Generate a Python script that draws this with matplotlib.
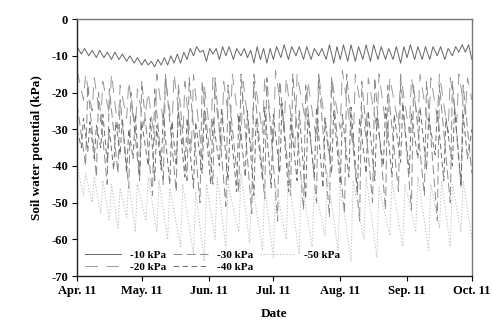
import matplotlib
matplotlib.use("Agg")
import matplotlib.pyplot as plt
import numpy as np

plt.rcParams['font.family'] = ['Liberation Serif', 'DejaVu Serif']
plt.rcParams['lines.scale_dashes'] = False

month_ticks = [0, 30, 61, 91, 122, 153, 183]
month_labels = ["Apr. 11", "May. 11", "Jun. 11", "Jul. 11", "Aug. 11", "Sep. 11", "Oct. 11"]
y_ticks = [0, -10, -20, -30, -40, -50, -60, -70]
y_labels = ["0", "-10", "-20", "-30", "-40", "-50", "-60", "-70"]

# Series: turning points (day since Apr. 11, kPa)
s10_days = [0, 2, 3.5, 5.5, 7, 9, 10.5, 12.5, 14, 16, 17.5, 19.5, 21, 23, 24.5, 26.5, 28, 30,
            31.5, 33, 34.5, 36, 37.5, 39, 40.5, 42, 43.5, 45, 46.5, 48, 49.5, 51, 52.5, 54, 55.5, 57, 58.5, 60,
            61.5, 63, 64.5, 66, 67.5, 69, 70.5, 72.5, 74, 76, 77.5, 79, 80.5, 82, 83.5, 85, 86.5, 88, 89.5, 91,
            92.5, 94.5, 96, 98, 99.5, 101.5, 103, 105, 106.5, 108.5, 110, 112, 113.5, 115.5, 117, 119, 120.5, 122,
            123.5, 125.5, 127, 129, 130.5, 132.5, 134, 136, 137.5, 139.5, 141, 143, 144.5, 146.5, 148, 150, 151.5, 153,
            154.5, 156.5, 158, 160, 161.5, 163.5, 165, 167, 168.5, 170.5, 172, 174, 175.5, 177, 178.5, 180, 181.5, 183]
s10_vals = [-7.5, -9.5, -8, -10, -8.5, -10.5, -8.5, -10.5, -9, -11, -9, -11, -9.5, -11.5, -10, -12, -10.5, -12.5,
            -11, -12.5, -11.5, -13, -11, -12.5, -10.5, -12.5, -10, -12, -9.5, -12, -9, -11, -8, -10, -7.5, -9, -8.5, -11.5,
            -8, -9.5, -8, -11, -7.5, -10, -7.5, -11, -8, -10, -8, -10.5, -8.5, -12, -7.5, -11, -8, -12, -8, -11,
            -7.5, -10.5, -7, -11, -7.5, -10, -7.5, -11, -7.5, -11, -8, -10, -8, -11, -7, -12, -7.5, -11,
            -7, -11.5, -7, -11.5, -7.5, -11, -7, -11.5, -7, -11, -7.5, -11, -8, -11, -7.5, -12, -7.5, -10.5,
            -7, -11, -7.5, -11, -7.5, -11, -7.5, -10, -7.5, -11, -8, -10, -7.5, -9, -7, -9, -7, -11]

s20_days = [0, 3, 4, 7, 8, 11, 12, 15, 16, 19, 20, 23, 24, 27, 28, 31, 33, 36, 37, 40, 41, 44, 45, 49, 50, 53, 54, 58,
            59, 62, 63, 67, 68, 71, 72, 76, 77, 81, 82, 86, 87, 91, 92, 96, 97, 101, 102, 106, 107, 111, 112, 117, 118,
            122, 123, 128, 129, 134, 135, 139, 140, 144, 145, 149, 150, 154, 155, 158, 159, 163, 164, 167, 168, 172,
            173, 176, 177, 180, 181, 183]
s20_vals = [-14, -22, -15, -25, -16, -28, -17, -26, -15, -30, -18, -27, -17, -31, -19, -29, -20, -33, -15, -28, -16, -30,
            -15, -34, -17, -36, -15, -38, -18, -33, -16, -35, -17, -30, -15, -33, -17, -36, -15, -31, -16, -34, -14,
            -30, -16, -35, -15, -28, -17, -33, -15, -38, -16, -30, -14, -35, -15, -32, -16, -30, -15, -33, -16, -29,
            -15, -31, -16, -28, -15, -30, -16, -27, -15, -31, -16, -28, -15, -26, -16, -22]

s30_days = [0, 4, 5, 9, 10, 14, 15, 19, 20, 24, 25, 29, 30, 35, 36, 40, 41, 46, 47, 51, 52, 57, 58, 63, 64, 69, 70, 75,
            76, 81, 82, 87, 88, 93, 94, 99, 100, 105, 106, 111, 112, 117, 118, 124, 125, 131, 132, 137, 138, 143, 144,
            149, 150, 155, 156, 161, 162, 167, 168, 173, 174, 178, 179, 183]
s30_vals = [-23, -40, -18, -43, -20, -45, -19, -42, -22, -46, -20, -44, -17, -48, -19, -45, -15, -47, -18, -44, -16, -50,
            -17, -45, -16, -51, -18, -47, -15, -53, -17, -49, -16, -55, -17, -48, -15, -52, -18, -50, -15, -54, -16,
            -53, -15, -55, -17, -50, -16, -52, -18, -47, -16, -52, -18, -48, -17, -55, -18, -50, -17, -46, -18, -42]

s40_days = [0, 2, 3, 5, 6, 8, 9, 11, 12, 14, 15, 17, 18, 20, 21, 23, 24, 26, 27, 29, 30, 33, 34, 36, 37, 39, 40, 43,
            44, 46, 47, 50, 51, 54, 55, 58, 59, 62, 63, 66, 67, 70, 71, 74, 75, 78, 79, 82, 83, 86, 87, 90, 91, 94,
            95, 98, 99, 102, 103, 106, 107, 110, 111, 114, 115, 118, 119, 122, 123, 126, 127, 130, 131, 134, 135, 138,
            139, 142, 143, 146, 147, 150, 151, 154, 155, 158, 159, 162, 163, 166, 167, 170, 171, 174, 175, 178, 179,
            181, 183]
s40_vals = [-30, -35, -27, -36, -28, -38, -29, -35, -26, -39, -30, -41, -28, -37, -27, -42, -30, -38, -26, -43, -28, -40,
            -27, -44, -29, -41, -26, -45, -28, -40, -25, -43, -27, -46, -28, -42, -25, -45, -27, -40, -24, -44, -28,
            -47, -26, -43, -25, -48, -27, -44, -24, -46, -26, -42, -23, -47, -27, -44, -25, -49, -26, -43, -24, -46,
            -27, -42, -25, -45, -26, -43, -24, -47, -27, -42, -25, -44, -27, -40, -24, -43, -26, -39, -23, -42, -26,
            -38, -24, -41, -27, -37, -25, -44, -27, -40, -24, -45, -26, -38, -30]

s50_days = [0, 3, 4, 7, 8, 11, 12, 15, 16, 19, 20, 23, 24, 27, 28, 32, 33, 37, 38, 42, 43, 48, 49, 54, 55, 59, 60, 64,
            65, 69, 70, 75, 76, 80, 81, 86, 87, 91, 92, 97, 98, 103, 104, 109, 110, 115, 116, 121, 122, 127, 128, 133,
            134, 139, 140, 145, 146, 151, 152, 157, 158, 163, 164, 168, 169, 173, 174, 178, 179, 183]
s50_vals = [-40, -48, -42, -50, -43, -53, -44, -55, -45, -57, -46, -54, -44, -58, -45, -55, -43, -58, -44, -60, -46, -62,
            -45, -64, -47, -66, -45, -60, -43, -62, -45, -58, -42, -61, -44, -63, -46, -65, -45, -60, -43, -64, -44,
            -62, -45, -59, -42, -63, -45, -66, -44, -60, -43, -65, -46, -59, -44, -62, -45, -58, -43, -63, -45, -57,
            -44, -62, -45, -58, -44, -60]

series = [
    ("-10 kPa", s10_days, s10_vals, "#666666", "solid"),
    ("-20 kPa", s20_days, s20_vals, "#9a9a9a", (0, (9, 6))),
    ("-30 kPa", s30_days, s30_vals, "#8a8a8a", (0, (6.5, 3))),
    ("-40 kPa", s40_days, s40_vals, "#6e6e6e", (0, (4, 2.5))),
    ("-50 kPa", s50_days, s50_vals, "#c0c0c0", (0, (1, 1.3))),
]

fig = plt.figure(figsize=(4.92, 3.24), dpi=100)
ax = fig.add_axes([0.1565, 0.148, 0.8025, 0.793])

for name, d, v, c, ls in series:
    ax.plot(d, v, color=c, linestyle=ls, linewidth=0.7, label=name)

ax.set_xlim(0, 183)
ax.set_ylim(-70, 0)
ax.set_xticks(month_ticks)
ax.set_xticklabels(month_labels)
ax.set_yticks(y_ticks)
ax.set_yticklabels(y_labels)
ax.tick_params(direction='out', length=3.5, width=0.8, labelsize=9, pad=3)
for lab in ax.get_xticklabels() + ax.get_yticklabels():
    lab.set_fontweight('bold')
for s in ['left', 'bottom']:
    ax.spines[s].set_color('#222222')
    ax.spines[s].set_linewidth(1.0)
for s in ['top', 'right']:
    ax.spines[s].set_color('#777777')
    ax.spines[s].set_linewidth(1.0)

ax.set_xlabel("Date", fontsize=9.5, fontweight='bold', labelpad=8)
ax.set_ylabel("Soil water potential (kPa)", fontsize=9.5, fontweight='bold', labelpad=6)

leg = ax.legend(loc='lower left', ncol=3, frameon=False,
                prop={'weight': 'bold', 'size': 8},
                handlelength=3.2, handletextpad=0.8, columnspacing=0.6,
                labelspacing=0.2, borderaxespad=0.0, bbox_to_anchor=(0.01, 0.0))

fig.savefig("out.png", dpi=100)
